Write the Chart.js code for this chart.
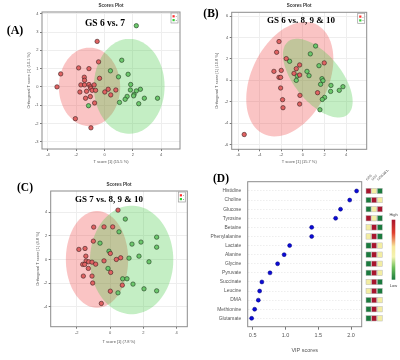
<!DOCTYPE html>
<html>
<head>
<meta charset="utf-8">
<script src="https://cdn.jsdelivr.net/npm/chart.js@4.4.1/dist/chart.umd.min.js"></script>
<style>
  body { margin: 0; width: 400px; height: 360px; position: relative; overflow: hidden; background: #fff; }
  canvas { position: absolute; }
  .tag { position: absolute; transform: translate(-50%, -50%); font-family: "Liberation Serif", serif; font-weight: bold; white-space: nowrap; color: #000; }
</style>
</head>
<body>
<canvas id="cA" width="200" height="180" style="left:0;top:0"></canvas>
<canvas id="cB" width="200" height="180" style="left:200px;top:0"></canvas>
<canvas id="cC" width="200" height="180" style="left:0;top:180px"></canvas>
<canvas id="cD" width="200" height="190" style="left:200px;top:170px"></canvas>

<div class="tag" style="left:15px;top:30px;font-size:12px">(A)</div>
<div class="tag" style="left:211px;top:13px;font-size:11.5px">(B)</div>
<div class="tag" style="left:25px;top:187px;font-size:11.5px">(C)</div>
<div class="tag" style="left:221px;top:178px;font-size:11.5px">(D)</div>
<div class="tag" style="left:105px;top:23px;font-size:9.5px">GS 6 vs. 7</div>
<div class="tag" style="left:301px;top:20px;font-size:9px">GS 6 vs. 8, 9 &amp; 10</div>
<div class="tag" style="left:109px;top:199px;font-size:9px">GS 7 vs. 8, 9 &amp; 10</div>

<script>
// ---- panel A: GS 6 vs 7 ----
const aGroup1 = [[-0.52,2.49],[-0.42,1.37],[-1.83,1.04],[-1.10,1.0],[-3.10,0.71],[-0.35,0.47],[-1.43,0.53],[-1.41,0.36],[-1.67,0.11],[-1.41,0.11],[-3.36,0],[-1.10,0.13],[-1.00,0],[-0.96,-0.08],[-0.73,0.11],[-0.87,-0.19],[-0.63,-0.19],[-1.74,-0.28],[-1.27,-0.24],[0.26,-0.13],[0.02,-0.28],[0.80,-0.17],[0.44,-0.44],[-1.00,-0.53],[-1.34,-0.62],[-0.70,-0.88],[-2.06,-1.74],[-0.96,-2.24]];
const aGroup2 = [[2.25,3.35],[1.22,1.46],[0.42,0.88],[1.67,0.69],[0.99,0.55],[1.85,0.13],[1.83,-0.17],[2.54,-0.13],[2.25,-0.22],[2.09,-0.41],[2.06,-0.49],[1.60,-0.52],[1.46,-0.68],[1.06,-0.85],[2.42,-0.92],[2.82,-0.62],[3.75,-0.62],[-1.13,-1.03]];
const aEllipses = [[-1.06,0,2.17,2.15,0],[1.75,0.03,2.5,2.6,0]]; // cx, cy, rx, ry, angle
const aXTicks = [-4,-2,0,2,4];
const aYTicks = [4,3,2,1,0,-1,-2,-3];

// ---- panel B: GS 6 vs 8, 9 & 10 ----
const bGroup1 = [[-2.22,3.62],[-2.44,2.62],[-1.55,2.03],[-0.31,1.44],[1.97,1.63],[-0.62,1.09],[-2.01,0.93],[-2.69,0.84],[-0.83,0.65],[-0.31,0.50],[-2.22,0.28],[-2.07,0.28],[-2.07,-0.71],[1.35,-1.15],[-0.28,-1.40],[-1.89,-1.80],[-0.31,-2.21],[-1.85,-2.55],[-5.44,-5.05]];
const bGroup2 = [[1.17,3.21],[0.68,2.47],[-1.24,1.78],[1.48,1.37],[0.37,0.84],[-0.53,0.41],[0.56,0.44],[-0.62,0],[1.76,0.16],[1.85,-0.03],[1.63,-0.37],[2.59,-0.47],[3.70,-0.59],[2.56,-1.03],[3.36,-0.93],[2.0,-1.59],[1.79,-1.78],[1.57,-2.74]];
const bEllipses = [[-1.22,0.11,5.66,3.57,64.7],[1.37,0.21,4.38,2.18,128.8]];
const bXTicks = [-6,-4,-2,0,2,4];
const bYTicks = [6,4,2,0,-2,-4,-6];

// ---- panel C: GS 7 vs 8, 9 & 10 ----
const cGroup1 = [[0.48,4.18],[-0.98,2.74],[-0.36,2.76],[0.16,2.76],[-1.0,1.55],[-1.87,0.85],[-1.5,0.93],[-1.45,0.28],[0.02,0.51],[-0.36,-0.12],[0.38,0],[0.64,0.14],[-1.44,-0.14],[-1.28,-0.2],[-1.08,-0.23],[-0.86,-0.4],[-1.64,-0.42],[-1.52,-0.42],[-1.3,-0.76],[0.04,-1.1],[-1.6,-1.41],[-1.08,-1.41],[-1.04,-2.0],[0.74,-2.18],[0.02,-2.69],[-0.52,-3.73]];
const cGroup2 = [[0.92,3.42],[0.54,2.34],[2.80,1.89],[1.86,1.47],[1.32,1.30],[-0.6,1.38],[2.80,1.04],[-0.06,0.70],[1.74,0.28],[1.14,0.11],[2.34,-0.2],[-0.12,-0.76],[0.76,-1.64],[1.02,-1.64],[1.38,-2.09],[2.04,-2.49],[2.80,-2.66],[0.48,-2.83]];
const cEllipses = [[-0.78,0,1.87,4.1,0],[1.3,-0.04,2.5,4.6,0]];
const cXTicks = [-2,0,2,4];
const cYTicks = [4,2,0,-2,-4];

// ---- panel D: VIP scores ----
const metabolites = ['Histidine','Choline','Glucose','Tyrosine','Betaine','Phenylalanine','Lactate','Alanine','Glycine','Pyruvate','Succinate','Leucine','DMA','Methionine','Glutamate'];
const vipScores = [2.085,1.98,1.84,1.765,1.40,1.40,1.064,0.98,0.88,0.764,0.64,0.606,0.586,0.53,0.484];
const vipTicks = [0.5,1.0,1.5,2.0];
const heatGroups = ['GS6','GS7','GS8,9&10'];
// 2 = high, 1 = mid, 0 = low
const heatLevels = [[2,1,0],[0,2,1],[0,1,2],[2,1,0],[1,2,0],[1,2,0],[0,2,1],[0,2,1],[0,2,1],[0,2,1],[1,2,0],[1,2,0],[0,2,1],[0,2,1],[0,2,1]];

const $ = (id) => document.getElementById(id);
const SANS = '"Liberation Sans", Arial, sans-serif';
const heatColors = ['#1b7a3e', '#f3eda2', '#a8152e'];
const ellipseColors = ['rgba(240,60,60,0.3)', 'rgba(60,200,60,0.3)'];

Chart.defaults.font.family = SANS;
Chart.defaults.animation = false;

function framePlugin(legend) {
  return {
    id: 'frame',
    afterDatasetsDraw(chart) {
      const { ctx, chartArea: a } = chart;
      ctx.save();
      ctx.strokeStyle = '#8c8c8c';
      ctx.lineWidth = 1;
      ctx.strokeRect(a.left, a.top, a.width, a.height);
      if (legend) {
        const lx = a.right - 9, ly = a.top + 1;
        ctx.fillStyle = '#fff';
        ctx.strokeStyle = '#999';
        ctx.lineWidth = 0.7;
        ctx.fillRect(lx, ly, 7, 10);
        ctx.strokeRect(lx, ly, 7, 10);
        ctx.fillStyle = '#ff3030';
        ctx.fillRect(lx + 1.5, ly + 2.2, 2.2, 2.2);
        ctx.fillStyle = '#30d030';
        ctx.fillRect(lx + 1.5, ly + 6, 2.2, 2.2);
        ctx.fillStyle = '#666';
        ctx.font = '2.5px ' + SANS;
        ctx.fillText('1', lx + 4.5, ly + 4.3);
        ctx.fillText('2', lx + 4.5, ly + 8.1);
      }
      ctx.restore();
    }
  };
}

function ellipsePlugin(list) {
  return {
    id: 'ellipses',
    beforeDatasetsDraw(chart) {
      const { ctx, chartArea: a, scales: { x, y } } = chart;
      ctx.save();
      ctx.beginPath();
      ctx.rect(a.left, a.top, a.width, a.height);
      ctx.clip();
      list.forEach(([cx, cy, rx, ry, ang], k) => {
        const r = ang * Math.PI / 180;
        ctx.beginPath();
        for (let i = 0; i <= 90; i++) {
          const t = i / 90 * 2 * Math.PI;
          const dx = rx * Math.cos(t), dy = ry * Math.sin(t);
          const px = x.getPixelForValue(cx + dx * Math.cos(r) - dy * Math.sin(r));
          const py = y.getPixelForValue(cy + dx * Math.sin(r) + dy * Math.cos(r));
          if (i) ctx.lineTo(px, py); else ctx.moveTo(px, py);
        }
        ctx.closePath();
        ctx.fillStyle = ellipseColors[k];
        ctx.fill();
      });
      ctx.restore();
    }
  };
}

function scoresChart(id, c) {
  const pts = (arr) => arr.map(([x, y]) => ({ x, y }));
  const tickFont = { size: 4 };
  return new Chart($(id), {
    type: 'scatter',
    data: {
      datasets: [
        { data: pts(c.g1), backgroundColor: '#e06262', borderColor: '#3a2020', borderWidth: 0.6, pointRadius: 2.2 },
        { data: pts(c.g2), backgroundColor: '#6cc86c', borderColor: '#203a20', borderWidth: 0.6, pointRadius: 2.2 }
      ]
    },
    options: {
      responsive: false,
      layout: { padding: { left: 0, right: c.padRight, top: 0, bottom: 0 } },
      plugins: {
        legend: { display: false },
        tooltip: { enabled: false },
        title: {
          display: true, text: 'Scores Plot', fullSize: false, color: '#333',
          font: { size: 4.5, weight: 'bold' }, padding: { top: c.titleTop, bottom: c.titleBottom }
        }
      },
      scales: {
        x: {
          min: c.xMin, max: c.xMax,
          afterBuildTicks: (s) => { s.ticks = c.xTicks.map(v => ({ value: v })); },
          afterFit: (s) => { s.height = c.xAxisH; },
          ticks: { font: tickFont, color: '#555', padding: 1.5, autoSkip: false, maxRotation: 0 },
          grid: { color: '#eeeeee', tickLength: 2, tickColor: '#777' },
          border: { display: false },
          title: { display: true, text: c.xTitle, color: '#555', font: { size: 4 }, padding: { top: 0, bottom: c.xTitlePad } }
        },
        y: {
          min: c.yMin, max: c.yMax,
          afterBuildTicks: (s) => { s.ticks = c.yTicks.map(v => ({ value: v })); },
          afterFit: (s) => { s.width = c.yAxisW; },
          ticks: { font: tickFont, color: '#555', padding: 1.5, autoSkip: false },
          grid: { color: '#eeeeee', tickLength: 2, tickColor: '#777' },
          border: { display: false },
          title: { display: true, text: c.yTitle, color: '#555', font: { size: 4 }, padding: { top: c.yTitlePad, bottom: 0 } }
        }
      }
    },
    plugins: [ellipsePlugin(c.ellipses), framePlugin(true)]
  });
}

scoresChart('cA', {
  g1: aGroup1, g2: aGroup2, ellipses: aEllipses, xTicks: aXTicks, yTicks: aYTicks,
  xMin: -4.42, xMax: 5.34, yMin: -3.4, yMax: 4.1,
  padRight: 20, titleTop: 3.3, titleBottom: 3.3, xAxisH: 31, yAxisW: 42,
  xTitle: 'T score [1] (15.5 %)', xTitlePad: 15.6,
  yTitle: 'Orthogonal T score [1] (10.1 %)', yTitlePad: 26.6
});

scoresChart('cB', {
  g1: bGroup1, g2: bGroup2, ellipses: bEllipses, xTicks: bXTicks, yTicks: bYTicks,
  xMin: -6.6, xMax: 5.9, yMin: -6.43, yMax: 6.35,
  padRight: 33.3, titleTop: 3.3, titleBottom: 3.6, xAxisH: 30.7, yAxisW: 31.7,
  xTitle: 'T score [1] (15.7 %)', xTitlePad: 15.3,
  yTitle: 'Orthogonal T score [1] (10.8 %)', yTitlePad: 14.3
});

scoresChart('cC', {
  g1: cGroup1, g2: cGroup2, ellipses: cEllipses, xTicks: cXTicks, yTicks: cYTicks,
  xMin: -3.56, xMax: 4.64, yMin: -5.7, yMax: 5.8,
  padRight: 12.7, titleTop: 2.3, titleBottom: 3.3, xAxisH: 33.3, yAxisW: 50.7,
  xTitle: 'T score [1] (7.8 %)', xTitlePad: 15.9,
  yTitle: 'Orthogonal T score [1] (4.8 %)', yTitlePad: 35.9
});

const heatPlugin = {
  id: 'heat',
  afterDatasetsDraw(chart) {
    const { ctx, chartArea: a, scales: { y } } = chart;
    ctx.save();
    heatLevels.forEach((row, i) => {
      const py = y.getPixelForValue(i);
      row.forEach((lv, j) => {
        const px = a.right + 4.3 + j * 5.65;
        ctx.fillStyle = heatColors[lv];
        ctx.fillRect(px, py - 2.7, 5, 5.4);
        ctx.strokeStyle = '#b8b8b8';
        ctx.lineWidth = 0.5;
        ctx.strokeRect(px, py - 2.7, 5, 5.4);
      });
    });
    // column headers
    ctx.fillStyle = '#444';
    ctx.font = '3.4px ' + SANS;
    heatGroups.forEach((g, j) => {
      ctx.save();
      ctx.translate(a.right + 5.5 + j * 5.65, a.top - 1);
      ctx.rotate(-Math.PI / 4);
      ctx.fillText(g, 0, 0);
      ctx.restore();
    });
    // colour key
    const kx = a.right + 30, ky = a.top + 38, kh = 60;
    const grad = ctx.createLinearGradient(0, ky, 0, ky + kh);
    grad.addColorStop(0, heatColors[2]);
    grad.addColorStop(0.22, '#e04030');
    grad.addColorStop(0.45, '#f6e79a');
    grad.addColorStop(0.62, '#f3f3b0');
    grad.addColorStop(0.8, '#6cbf5a');
    grad.addColorStop(1, heatColors[0]);
    ctx.fillStyle = grad;
    ctx.fillRect(kx, ky, 3.6, kh);
    ctx.fillStyle = '#444';
    ctx.font = '4px ' + SANS;
    ctx.textAlign = 'center';
    ctx.fillText('High', kx + 1.8, ky - 4);
    ctx.fillText('Low', kx + 1.8, ky + kh + 7);
    ctx.restore();
  }
};

new Chart($('cD'), {
  type: 'scatter',
  data: {
    datasets: [{
      data: vipScores.map((v, i) => ({ x: v, y: i })),
      backgroundColor: '#0b0bd6', borderColor: '#00007a', borderWidth: 0.5, pointRadius: 2
    }]
  },
  options: {
    responsive: false,
    layout: { padding: { left: 0, right: 38.3, top: 11.7, bottom: 0 } },
    plugins: { legend: { display: false }, tooltip: { enabled: false } },
    scales: {
      x: {
        min: 0.424, max: 2.163,
        afterBuildTicks: (s) => { s.ticks = vipTicks.map(v => ({ value: v })); },
        afterFit: (s) => { s.height = 33.3; },
        ticks: { font: { size: 5.5 }, color: '#555', padding: 2, maxRotation: 0, callback: (v) => v.toFixed(1) },
        grid: { drawOnChartArea: false, tickLength: 3, tickColor: '#777' },
        border: { display: false },
        title: { display: true, text: 'VIP scores', color: '#555', font: { size: 5.5 }, padding: { top: 0, bottom: 6 } }
      },
      y: {
        reverse: true, min: -1.02, max: 14.92,
        afterBuildTicks: (s) => { s.ticks = metabolites.map((m, i) => ({ value: i })); },
        afterFit: (s) => { s.width = 47.7; },
        ticks: { font: { size: 4.9 }, color: '#555', padding: 6.5, autoSkip: false, callback: (v) => metabolites[v] },
        grid: { color: '#e2e2e2', lineWidth: 0.6, drawTicks: false },
        border: { display: false, dash: [1.5, 1.5] }
      }
    }
  },
  plugins: [heatPlugin, framePlugin(false)]
});
</script>
</body>
</html>
